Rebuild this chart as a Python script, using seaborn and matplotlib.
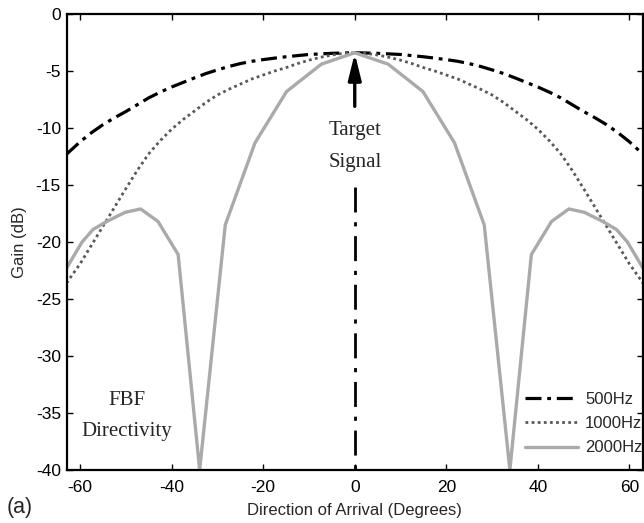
import numpy as np
import pandas as pd
import matplotlib
matplotlib.use("Agg")
import matplotlib.pyplot as plt
import seaborn as sns

# ---- data ----
ang_smooth_half = [0, 2.5, 5, 7.5, 10, 12.5, 15, 17.5, 20, 22.5, 25, 27.5, 30, 32.5,
                   35, 37.5, 40, 42.5, 45, 47.5, 50, 52.5, 55, 57.5, 60, 63]
gain_500_half = [-3.4, -3.42, -3.45, -3.5, -3.55, -3.65, -3.75, -3.87, -4.0, -4.15,
                 -4.35, -4.6, -4.9, -5.22, -5.6, -6.0, -6.4, -6.85, -7.35, -7.95,
                 -8.55, -9.1, -9.7, -10.4, -11.2, -12.3]
gain_1000_half = [-3.4, -3.45, -3.6, -3.8, -4.05, -4.35, -4.7, -5.0, -5.35, -5.7,
                  -6.15, -6.6, -7.1, -7.75, -8.5, -9.25, -10.1, -11.1, -12.25, -13.7,
                  -15.3, -16.95, -18.6, -20.25, -21.9, -23.6]

ang_2000_half = [0, 7.3, 14.9, 21.8, 28.3, 33.9, 38.6, 43.0, 46.8, 50.2, 54.2, 57.2, 59.6, 63]
gain_2000_half = [-3.4, -4.4, -6.8, -11.3, -18.5, -40.0, -21.1, -18.2, -17.1, -17.4, -18.2, -18.9, -20.0, -22.3]

labels = ["500Hz", "1000Hz", "2000Hz"]
xticks = [-60, -40, -20, 0, 20, 40, 60]
yticks = [0, -5, -10, -15, -20, -25, -30, -35, -40]


def mirror(a, g):
    a = np.array(a, float)
    g = np.array(g, float)
    return np.concatenate([-a[::-1], a[1:]]), np.concatenate([g[::-1], g[1:]])


a5, g5 = mirror(ang_smooth_half, gain_500_half)
a10, g10 = mirror(ang_smooth_half, gain_1000_half)
a20, g20 = mirror(ang_2000_half, gain_2000_half)

df = pd.concat([
    pd.DataFrame({"angle": a5, "gain": g5, "freq": labels[0]}),
    pd.DataFrame({"angle": a10, "gain": g10, "freq": labels[1]}),
    pd.DataFrame({"angle": a20, "gain": g20, "freq": labels[2]}),
])

sns.set_style("ticks")
plt.rcParams["font.family"] = ["Liberation Sans", "DejaVu Sans"]

fig = plt.figure(figsize=(6.44, 5.23), dpi=100)
ax = fig.add_axes([66.5 / 644, 1 - 470 / 523, (643 - 66.5) / 644, (470 - 14) / 523])

styles = {
    "500Hz": dict(color="black", lw=2.3, ls=(0, (5, 1.8, 1.2, 1.8))),
    "1000Hz": dict(color="#595959", lw=2.0, ls=(0, (1, 1.2))),
    "2000Hz": dict(color="#aaaaaa", lw=2.4, ls="-"),
}
for lab in labels:
    st = styles[lab]
    sns.lineplot(data=df[df["freq"] == lab], x="angle", y="gain", ax=ax,
                 color=st["color"], linewidth=st["lw"], linestyle=st["ls"],
                 label=lab, sort=False, estimator=None)

ax.set_xlim(-63, 63)
ax.set_ylim(-40, 0)
ax.set_xticks(xticks)
ax.set_yticks(yticks)
ax.set_xticklabels([str(t) for t in xticks])
ax.set_yticklabels([str(t) for t in yticks])
ax.tick_params(direction="in", length=4, width=1, labelsize=12.5,
               top=True, right=True, labeltop=False, labelright=False,
               colors="black", pad=4)
ax.tick_params(axis="x", pad=7)
for s in ax.spines.values():
    s.set_linewidth(1.6)
    s.set_color("black")
    s.set_visible(True)

ax.set_xlabel("Direction of Arrival (Degrees)", fontsize=12, labelpad=6)
ax.set_ylabel("Gain (dB)", fontsize=12, labelpad=6)

# target signal marker
ax.plot([0, 0], [-15.15, -40], color="black", lw=2,
        ls=(0, (9, 3.5, 1.5, 3.5)), solid_capstyle="butt")
ax.annotate("", xy=(0, -3.45), xytext=(0, -8.1),
            arrowprops=dict(arrowstyle="-|>,head_length=1.05,head_width=0.26",
                            mutation_scale=15, lw=2.4, color="black",
                            shrinkA=0, shrinkB=0))
serif = ["Liberation Serif", "DejaVu Serif"]
ax.text(0, -10.26, "Target", ha="center", va="center", fontsize=15, family=serif)
ax.text(0, -13.07, "Signal", ha="center", va="center", fontsize=15, family=serif)
ax.text(-49.9, -33.86, "FBF", ha="center", va="center", fontsize=15, family=serif)
ax.text(-49.9, -36.64, "Directivity", ha="center", va="center", fontsize=15, family=serif)

fig.text(7 / 644, 1 - 508 / 523, "(a)", ha="left", va="center", fontsize=15.5)

leg = ax.legend(loc="upper left", bbox_to_anchor=(525 / 644, 1 - 392 / 523),
                bbox_transform=fig.transFigure, frameon=False, fontsize=12,
                handlelength=3.2, handletextpad=0.4, labelspacing=0.55,
                borderpad=0, borderaxespad=0)

fig.savefig("out.png", dpi=100)
